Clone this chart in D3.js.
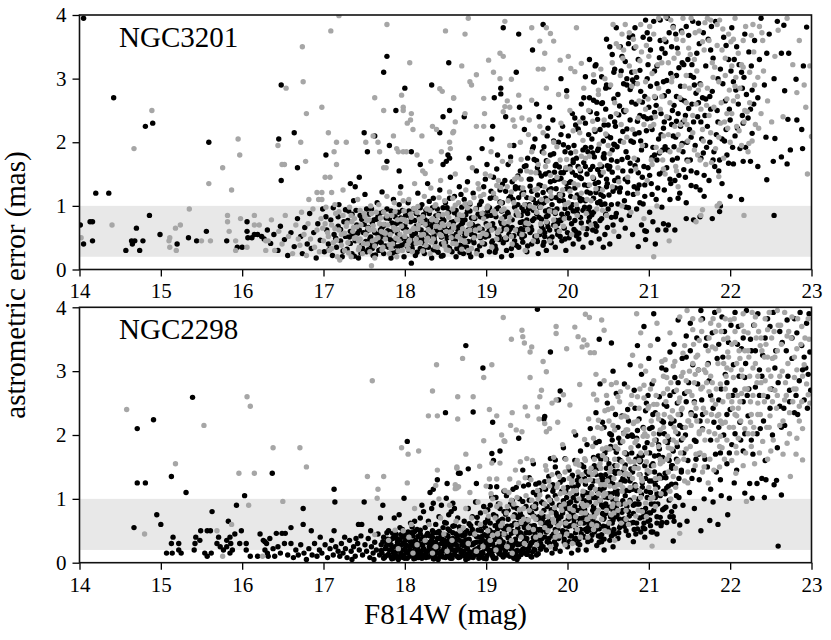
<!DOCTYPE html>
<html><head><meta charset="utf-8">
<script src="https://cdn.jsdelivr.net/npm/d3@7"></script>
<style>body{margin:0;background:#fff} text{font-family:"Liberation Serif","Times New Roman",serif}</style>
</head><body><svg id="c" width="831" height="640"></svg>
<script>
const xTicks=[14,15,16,17,18,19,20,21,22,23];
const yTicks=[0,1,2,3,4];
const xDomain=[14,23], yDomain=[0,4];
const band=[0.2,1.0];
const panelNames=["NGC3201","NGC2298"];
const axisTitleX="F814W (mag)", axisTitleY="astrometric error (mas)";

const ngc3201Black=[
[14.05,3.95],[14.42,2.70],[14.81,2.25],[14.90,2.30],[15.59,2.00],[14.20,1.20],[14.36,1.20],[14.01,0.70],[14.13,0.75],[14.16,0.75],[14.05,0.40],[14.16,0.45],[14.57,0.30],[14.74,0.30],[14.64,0.45],[14.65,0.40],[14.68,0.45],[14.70,0.65],[14.78,0.45],[14.86,0.85],[14.99,0.55],[15.20,0.40],[15.34,0.50],[15.44,0.45],[15.56,0.60],[15.81,0.45],[15.94,0.35],[16.00,0.35],[16.06,0.75],[16.06,0.60],[16.07,0.50],[16.12,0.50],[16.15,0.55],[16.19,0.55],[16.24,0.52],[16.27,0.48],
[16.48,2.90],[17.78,3.35],[17.74,3.10],[18.54,3.25],[18.00,2.85],[18.33,2.90],[17.89,2.50],[18.55,2.50],[18.47,2.40],[16.64,2.15],[16.45,2.05],[17.50,2.15],[17.63,2.10],[18.43,2.15],[17.81,1.95],[17.54,1.85],[17.03,1.80],[16.68,1.60],[16.48,1.40],[18.08,1.85],[17.78,1.70],[17.93,1.55],[18.53,1.80],[18.55,1.75],[18.47,1.65],[18.51,1.70],[17.44,1.45],[17.33,1.35],[17.39,1.30],[18.19,1.65],[18.08,0.10],
[19.21,3.80],[19.40,3.70],[19.70,3.85],[20.76,3.65],[20.65,3.50],[19.57,3.45],[20.35,3.22],[19.37,3.10],[20.22,3.03],[20.32,2.95],[19.92,3.00],[20.58,3.15],[20.73,3.00],[20.80,2.98],[20.82,2.93],[20.78,2.87],[20.48,2.90],[19.10,2.70],[19.18,2.76],[19.18,2.85],[19.62,2.60],[19.78,2.55],[19.99,2.81],[20.20,2.70],[20.32,2.66],[20.42,2.61],[18.73,2.40],[19.08,2.25],[20.09,2.38],
[16.31,0.62],[16.35,0.41],[16.39,0.55],[16.44,0.30],[16.47,0.68],[16.52,0.47],[16.56,0.22],[16.60,0.58],[16.64,0.36],[16.68,0.80],
[16.72,0.52],[16.74,0.25],[16.77,0.66],[16.80,0.40],[16.83,0.88],[16.85,0.33],[16.88,0.58],[16.91,0.18],[16.93,0.72],[16.96,0.46],[16.99,0.95],[17.01,0.28],[17.04,0.62],[17.06,0.40],[17.09,0.78],[17.11,0.22],[17.13,0.55],[17.16,0.35],[17.18,0.68],[17.19,1.02],
[17.21,0.45],[17.23,0.20],[17.25,0.75],[17.27,0.52],[17.29,0.32],[17.31,0.92],[17.33,0.60],[17.35,0.25],[17.37,1.08],[17.39,0.45],[17.41,0.70],[17.43,0.18],[17.45,0.85],[17.47,0.38],[17.49,0.58],[17.51,1.18],[17.53,0.28],[17.55,0.66],[17.57,0.48],[17.59,0.95],[17.61,0.22],[17.62,0.78],[17.64,0.40],[17.66,1.05],[17.67,0.55],[17.68,0.30],[17.69,0.88],[17.70,0.62],
[17.71,0.42],[17.72,1.22],[17.74,0.25],[17.75,0.70],[17.77,0.52],[17.78,0.95],[17.80,0.35],[17.81,0.80],[17.83,0.18],[17.84,0.60],[17.86,1.10],[17.87,0.45],[17.89,0.72],[17.90,0.28],[17.92,0.90],[17.93,0.55],[17.95,1.30],[17.96,0.38],[17.98,0.65],[17.99,0.20],[18.01,0.85],[18.02,0.48],[18.04,1.05],[18.05,0.30],[18.07,0.75],[18.08,0.58],[18.10,0.40],[18.11,0.95],[18.13,0.22],[18.14,0.68],[18.16,1.20],[18.17,0.50],[18.18,0.82],[18.19,0.33],[18.20,0.62],
[18.21,1.02],[18.22,0.42],[18.24,0.25],[18.25,0.78],[18.26,0.55],[18.28,1.35],[18.29,0.35],[18.30,0.88],[18.32,0.62],[18.33,0.18],[18.35,1.12],[18.36,0.48],[18.37,0.72],[18.39,0.30],[18.40,0.95],[18.42,0.58],[18.43,1.25],[18.45,0.40],[18.46,0.82],[18.47,0.22],[18.49,0.66],[18.50,1.05],[18.52,0.50],[18.53,0.35],[18.54,0.90],[18.56,1.45],[18.57,0.62],[18.58,0.28],[18.60,0.75],[18.61,1.15],[18.62,0.45],[18.63,0.20],[18.65,0.85],[18.66,0.55],[18.67,1.30],[18.68,0.38],[18.69,0.70],[18.70,0.98],[18.27,0.70],[18.44,0.60],
[18.71,0.48],[18.72,0.25],[18.73,1.10],[18.74,0.78],[18.76,0.35],[18.77,1.38],[18.78,0.62],[18.80,0.92],[18.81,0.20],[18.82,0.55],[18.84,1.20],[18.85,0.42],[18.86,0.80],[18.88,1.55],[18.89,0.30],[18.90,0.68],[18.92,1.02],[18.93,0.50],[18.94,0.22],[18.96,0.88],[18.97,1.30],[18.98,0.40],[19.00,0.72],[19.01,1.65],[19.02,0.58],[19.04,0.28],[19.05,1.12],[19.06,0.85],[19.08,0.45],[19.09,1.45],[19.10,0.65],[19.12,0.32],[19.13,0.95],[19.14,1.80],[19.16,0.52],[19.17,1.25],[19.18,0.75],[19.19,0.20],[19.20,1.05],[18.79,1.75],[18.95,1.90],[19.07,2.05],
[19.21,0.42],[19.22,0.65],[19.23,1.40],[19.25,0.30],[19.26,0.90],[19.27,1.65],[19.28,0.55],[19.30,1.15],[19.31,0.22],[19.32,0.78],[19.34,1.95],[19.35,0.45],[19.36,1.30],[19.38,0.62],[19.39,1.02],[19.40,0.35],[19.42,1.55],[19.43,0.85],[19.44,0.50],[19.46,1.22],[19.47,2.20],[19.48,0.70],[19.50,0.28],[19.51,1.75],[19.52,0.95],[19.54,0.58],[19.55,1.42],[19.56,0.40],[19.58,1.10],[19.59,0.80],[19.60,2.05],[19.62,0.48],[19.63,1.60],[19.64,0.25],[19.66,0.98],[19.67,1.32],[19.68,0.68],[19.69,1.85],[19.70,0.38],[19.24,2.40],[19.45,0.75],[19.57,1.90],[19.33,1.10],[19.65,2.40],[19.41,2.55],
[19.71,1.05],[19.72,0.52],[19.73,1.50],[19.74,0.30],[19.75,2.10],[19.76,0.85],[19.77,1.25],[19.78,0.62],[19.79,1.80],[19.80,0.42],[19.81,1.02],[19.82,2.35],[19.83,0.70],[19.84,1.40],[19.85,0.35],[19.86,1.65],[19.87,0.95],[19.88,0.55],[19.89,2.00],[19.90,1.18],[19.91,0.78],[19.92,1.52],[19.93,0.45],[19.94,2.25],[19.95,1.08],[19.96,0.65],[19.97,1.85],[19.98,0.30],[19.99,1.35],[20.00,0.88],[20.01,2.10],[20.02,0.50],[20.03,1.62],[20.04,1.15],[20.05,0.72],[20.06,2.45],[20.07,0.40],[20.08,1.95],[20.09,1.28],[20.10,0.60],[20.11,1.75],[20.12,0.95],[20.13,2.20],[20.14,0.48],[20.15,1.45],[20.16,0.82],[20.17,2.60],[20.18,1.10],[20.19,0.35],[20.20,1.68],
[20.21,0.98],[20.22,2.30],[20.23,0.55],[20.24,1.50],[20.25,1.85],[20.26,0.75],[20.27,2.70],[20.28,1.20],[20.29,0.42],[20.30,2.05],[20.31,1.62],[20.32,0.90],[20.33,2.95],[20.34,1.35],[20.35,0.60],[20.36,2.45],[20.37,1.05],[20.38,1.90],[20.39,0.48],[20.40,2.20],[20.41,1.48],[20.42,0.80],[20.43,2.62],[20.44,1.15],[20.45,1.75],[20.46,0.55],[20.47,2.85],[20.48,1.30],[20.49,2.10],[20.50,0.95],[20.51,1.58],[20.52,0.40],[20.53,2.40],[20.54,1.02],[20.55,1.88],[20.56,0.70],[20.57,3.10],[20.58,1.40],[20.59,2.25],[20.60,0.88],[20.61,1.70],[20.62,2.75],[20.63,0.52],[20.64,1.22],[20.65,2.02],[20.66,0.78],[20.67,3.35],[20.68,1.55],[20.69,2.50],[20.70,1.08],[20.34,3.20],[20.52,3.50],[20.44,0.35],[20.60,3.80],[20.27,3.30],
[20.71,0.65],[20.72,1.85],[20.73,2.90],[20.74,1.20],[20.75,3.55],[20.76,0.85],[20.77,2.35],[20.78,1.55],[20.79,3.10],[20.80,0.55],[20.81,2.00],[20.82,1.30],[20.83,3.80],[20.84,2.60],[20.85,0.95],[20.86,1.72],[20.87,3.30],[20.88,2.15],[20.89,1.05],[20.90,2.80],[20.91,0.70],[20.92,1.45],[20.93,3.65],[20.94,2.40],[20.95,1.15],[20.96,1.95],[20.97,0.60],[20.98,3.00],[20.99,1.60],[21.00,2.55],[21.01,0.90],[21.02,3.45],[21.03,1.35],[21.04,2.20],[21.05,0.75],[21.06,3.90],[21.07,1.80],[21.08,2.70],[21.09,1.10],[21.10,3.20],[21.11,0.62],[21.12,2.05],[21.13,1.50],[21.14,3.60],[21.15,2.45],[21.16,0.98],[21.17,1.88],[21.18,2.95],[21.19,1.25],[21.20,3.40],[20.87,0.36],[20.96,0.47],[20.95,0.61],[21.08,0.40],[21.18,0.72],
[21.22,1.60],[21.24,2.80],[21.26,1.10],[21.28,3.50],[21.30,2.10],[21.32,1.40],[21.34,3.05],[21.36,2.45],[21.38,1.20],[21.40,3.75],[21.42,1.85],[21.44,2.65],[21.46,1.05],[21.48,3.30],[21.50,2.20],[21.52,1.55],[21.54,3.90],[21.56,2.90],[21.58,1.30],[21.60,2.40],[21.62,3.55],[21.64,1.75],[21.66,2.70],[21.68,1.15],[21.70,3.20],[21.23,3.95],[21.29,2.50],[21.35,1.75],[21.41,3.25],[21.47,2.00],[21.53,2.60],[21.59,3.40],[21.65,2.05],[21.27,1.35],[21.45,1.45],[21.63,1.25],[21.39,2.25],[21.57,1.95],[21.51,3.05],[21.33,3.70],
[21.24,0.70],[21.21,0.62],[21.32,0.62],[21.46,0.80],[21.55,0.78],[21.63,0.83],
[21.72,2.25],[21.74,1.40],[21.76,3.45],[21.78,2.80],[21.80,1.85],[21.82,3.90],[21.84,2.50],[21.86,1.55],[21.88,3.15],[21.90,2.05],[21.92,3.65],[21.94,2.65],[21.96,1.80],[21.98,3.30],[22.00,2.35],[22.02,3.80],[22.04,2.95],[22.06,2.10],[22.08,3.50],[22.10,2.60],[22.12,1.90],[22.14,3.10],[22.16,2.30],[22.18,3.70],[22.20,2.75],[21.75,2.00],[21.85,3.00],[21.95,2.20],[22.05,3.30],[22.15,2.85],
[21.78,0.80],[21.87,0.91],[21.88,1.00],[22.00,1.15],[22.14,1.10],[21.98,1.67],[22.04,1.66],[21.81,1.62],[21.90,1.35],[22.16,1.70],
[22.54,0.85],[22.45,1.41],[22.34,1.62],[22.25,1.70],[22.53,1.70],[22.63,1.77],[22.70,1.66],[22.74,1.88],[22.89,1.90],[22.88,2.20],[22.82,2.35],[22.71,2.36],[22.55,2.06],[22.44,2.08],[22.67,2.81],[22.81,2.99],[22.90,3.20],[22.72,3.40],[22.63,3.40],[22.66,3.84],[22.94,3.81],[22.45,3.40],[22.54,3.00],[22.34,2.70],[22.29,2.60],[22.22,2.38],[22.27,2.14],[22.30,3.60],[22.38,3.95],[22.42,2.90],[22.26,3.20],[22.36,3.30],[22.48,3.70],[22.58,3.90],
[17.03,0.83],[17.07,0.31],[17.12,0.97],[17.15,0.49],[17.21,0.63],[17.24,0.29],[17.30,0.77],[17.33,0.41],[17.36,0.54],[17.40,0.93],[17.46,0.26],[17.50,0.71],[17.52,0.44],[17.56,0.87],[17.60,0.33],[17.63,0.58],[17.65,0.79],[17.71,0.51],[17.73,0.90],[17.76,0.37],[17.79,0.61],[17.82,0.47],[17.85,0.26],[17.88,0.83],[17.91,0.57],[17.93,1.02],[17.97,0.49],[18.00,0.69],[18.03,0.36],[18.05,0.92],[18.09,0.53],[18.12,0.77],[18.15,0.27],[18.17,0.63],[18.21,0.48],[18.23,0.86],[18.27,0.36],[18.30,1.07],[18.33,0.69],[18.36,0.53],[18.38,0.84],[18.41,0.27],[18.44,0.74],[18.47,0.97],[18.50,0.43],[18.53,0.61],[18.55,1.12],[18.58,0.52],[18.61,0.89],[18.64,0.33],[18.66,0.67],[18.69,1.18],[18.72,0.58],[18.75,0.86],[18.78,0.44],[18.80,1.03],[18.83,0.71],[18.86,0.53],[18.88,0.96],[17.18,0.83],[17.27,0.94],[17.44,0.62],[17.58,0.51],[17.69,0.44],[17.84,0.73],[17.95,0.81],[18.07,0.46],[18.19,0.97],[18.25,0.57],[18.35,0.31],[18.45,0.51],[18.57,0.74],[18.63,0.55],[18.73,0.37],[18.81,0.63],[17.55,0.31],[17.87,0.37],[18.13,0.57],[18.40,0.66],[18.70,0.78],
[18.91,0.62],[18.94,1.07],[18.96,0.41],[18.99,1.42],[19.01,0.84],[19.03,0.53],[19.06,1.23],[19.08,0.72],[19.11,0.37],[19.13,1.58],[19.15,0.97],[19.18,0.61],[19.20,1.34],[19.23,0.83],[19.25,0.47],[19.28,1.12],[19.30,1.77],[19.32,0.66],[19.35,0.98],[19.37,0.38],[19.39,1.47],[19.42,0.74],[19.44,1.19],[19.47,0.53],[19.49,1.63],[19.51,0.88],[19.54,1.31],[19.56,0.62],[19.58,1.93],[19.61,1.04],[19.63,0.44],[19.65,1.52],[19.68,0.79],[19.70,1.21],[19.72,0.58],[19.74,1.71],[19.77,0.94],[19.79,1.38],[19.81,0.51],[19.83,2.02],[19.86,1.13],[19.88,0.72],[19.90,1.61],[19.93,0.87],[19.95,1.96],[19.97,0.48],[19.99,1.27],[20.02,0.81],[20.04,1.83],[20.06,1.02],[20.08,0.63],[20.10,1.48],[20.13,2.21],[20.15,1.12],[20.17,0.73],[20.19,1.88],[20.21,1.33],[20.24,0.64],[20.26,2.12],[20.28,1.57],[20.30,0.86],[20.33,1.77],[20.35,1.21],[20.37,2.36],[20.40,0.77],[20.42,1.62],[20.44,2.02],[20.46,1.03],[20.48,1.42],[20.50,2.27],[18.93,0.83],[19.04,0.97],[19.16,0.47],[19.26,0.68],[19.36,1.27],[19.46,0.92],[19.57,0.77],[19.66,1.07],[19.76,0.67],[19.85,0.88],[19.94,1.17],[20.03,1.37],[20.12,0.88],[20.22,1.08],[20.32,1.43],[20.41,1.18],[20.49,0.66],[19.19,0.92],[19.41,0.56],[19.62,1.71],[19.84,1.53],[20.07,1.68],[20.27,0.98],[20.45,1.82],[19.53,1.02],[19.73,0.92],[19.92,1.43],[20.16,1.55],[20.36,0.68],[20.47,2.52],
[20.51,1.17],[20.53,2.07],[20.55,1.53],[20.57,2.68],[20.59,0.83],[20.61,1.93],[20.63,2.43],[20.65,1.28],[20.67,1.73],[20.69,2.92],[20.71,1.42],[20.73,2.21],[20.75,0.97],[20.77,1.67],[20.79,2.63],[20.81,1.18],[20.83,2.13],[20.85,3.02],[20.87,1.52],[20.89,2.42],[20.91,1.88],[20.93,1.03],[20.95,2.72],[20.97,2.18],[20.99,3.22],[21.01,1.48],[21.03,2.38],[21.05,1.92],[21.07,3.12],[21.09,2.58],[21.11,1.28],[21.13,3.33],[21.15,2.12],[21.17,1.53],[21.19,2.73],[21.21,3.58],[21.23,1.88],[21.25,2.38],[21.27,3.08],[21.29,1.72],[21.31,2.58],[21.33,2.08],[21.35,3.48],[21.37,1.48],[21.39,2.88],[21.41,1.98],[21.43,3.22],[21.45,2.42],[21.47,1.72],[21.49,3.68],[20.54,1.72],[20.62,1.03],[20.70,2.48],[20.78,2.02],[20.86,1.27],[20.94,1.62],[21.02,2.88],[21.10,1.72],[21.18,2.22],[21.26,1.42],[21.34,2.72],[21.42,2.32],[20.66,3.12],[20.82,3.48],[20.98,3.72],[21.14,3.92],[21.30,3.82],[20.58,2.32],[20.74,1.38],[20.90,2.02],
[21.51,1.72],[21.55,2.32],[21.59,1.52],[21.63,2.92],[21.67,3.72],[21.71,1.92],[21.75,2.72],[21.79,3.32],[21.83,2.12],[21.87,1.72],[21.91,2.92],[21.95,3.52],[21.99,2.52],[22.03,1.92],[22.07,2.82],[22.11,3.22],[22.15,2.42],[22.19,1.92],[22.23,3.42],[22.27,2.82],[21.53,3.22],[21.61,2.62],[21.69,2.42],[21.77,3.82],[21.85,2.32],[21.93,2.02],[22.01,3.12],[22.09,2.22],[22.17,3.02],[22.25,2.52],
[17.32,0.51],[17.35,0.87],[17.38,0.21],[17.42,0.57],[17.47,0.79],[17.48,0.33],[17.53,0.95],[17.54,0.61],[17.58,0.39],[17.60,0.74],[17.64,0.23],[17.67,0.83],[17.70,0.31],[17.72,0.66],[17.77,0.81],[17.80,0.53],[17.83,0.92],[17.86,0.43],[17.89,0.63],[17.92,0.36],[17.94,0.73],[17.97,0.93],[18.00,0.41],[18.02,0.63],[18.06,0.84],[18.09,0.33],[18.11,0.56],[18.14,0.88],[18.18,0.43],[18.20,0.74],[18.23,0.31],[18.26,0.93],[18.29,0.51],[18.31,0.76],[18.34,0.97],[18.37,0.43],[18.39,0.62],[18.42,0.87],[18.45,0.21],[18.48,0.77],[18.50,0.56],[18.52,0.97],[18.55,0.33],[18.58,0.66],[18.60,0.44],[18.63,0.93],[18.65,0.63],[18.68,0.27],[18.71,0.73],[18.74,0.53],[18.77,0.92],[18.79,0.26],[18.82,0.81],[18.84,0.46],[18.87,0.67],[18.90,0.87],[18.92,0.37],[18.95,0.63],[18.98,0.83],[18.99,0.51],
[19.02,0.92],[19.04,0.64],[19.07,0.43],[19.09,1.14],[19.12,0.83],[19.14,0.56],[19.17,1.06],[19.19,0.72],[19.22,0.48],[19.24,1.23],[19.27,0.88],[19.29,0.63],[19.32,1.38],[19.34,0.53],[19.37,0.86],[19.40,1.13],[19.43,0.64],[19.45,0.43],[19.48,1.02],[19.50,0.78],[19.53,1.42],[19.55,0.67],[19.58,0.93],[19.60,0.52],[19.63,1.17],[19.65,0.82],[19.68,1.47],[19.70,0.63],[19.73,1.12],[19.75,0.73],[19.78,0.48],[19.80,1.27],[19.82,0.92],[19.85,1.63],[19.87,0.62],[19.90,1.08],[19.92,0.77],[19.95,1.52],[19.97,0.96],[20.00,0.58],[20.02,1.27],[20.04,0.97],[20.07,1.72],[20.09,0.77],[20.12,1.17],[20.14,0.57],[20.17,1.43],[20.19,0.93],[20.22,1.62],[20.24,1.22],[20.27,0.82],[20.29,1.92],[20.32,1.12],[20.34,0.72],[20.37,1.57],[20.39,1.27],[20.42,1.02],[20.44,1.77],[20.47,0.87],[20.49,1.35],[20.52,1.62],[20.54,0.82],[20.57,1.97],[20.59,1.28],[19.11,0.27],[19.31,0.33],[19.51,0.37],[19.71,0.43],[19.91,0.52],[20.11,0.53],
[20.31,1.83],[20.36,2.63],[20.38,1.37],[20.42,3.03],[20.45,2.27],[20.49,1.63],[20.51,2.87],[20.55,3.38],[20.58,1.96],[20.62,1.44],[20.64,2.57],[20.68,2.17],[20.71,3.27],[20.74,1.76],[20.77,2.83],[20.80,3.67],[20.83,1.63],[20.86,2.33],[20.89,3.13],[20.92,2.63],[20.95,1.33],[20.98,2.37],[21.01,3.62],[21.04,1.76],[21.07,2.47],[21.10,2.92],[21.13,1.83],[21.16,3.47],[21.19,2.32],[21.22,2.97],[21.25,3.72],[21.28,2.28],[21.31,1.93],[21.34,2.33],[21.37,3.17],[21.40,2.67],[21.43,1.57],[21.46,3.82],[21.49,2.53],[21.52,2.08],[21.55,3.02],[21.58,2.77],[21.61,3.87],[21.64,2.32],[21.67,1.83],[21.70,2.68],[21.73,3.62],[21.76,2.52],[21.79,1.72],[20.40,1.07],[20.56,1.23],[20.72,0.98],[20.88,1.33],[21.04,1.18],[21.20,1.93],[21.36,1.12],[21.52,1.32],[21.68,1.48],[20.48,3.62],[20.96,3.92],
[19.41,1.28],[19.44,0.97],[19.47,1.62],[19.50,1.13],[19.53,0.67],[19.56,1.23],[19.59,1.73],[19.62,0.88],[19.65,1.33],[19.68,1.03],[19.71,1.93],[19.74,0.83],[19.77,1.52],[19.80,1.12],[19.83,1.82],[19.86,0.77],[19.89,1.42],[19.92,2.12],[19.95,0.82],[19.98,1.57],[20.01,1.92],[20.04,1.38],[20.07,0.92],[20.10,2.27],[20.13,1.62],[20.16,1.08],[20.19,2.38],[20.22,1.92],[20.25,1.32],[20.28,2.48],[20.31,0.62],[20.34,2.17],[20.37,1.87],[20.40,1.52],[19.46,0.62],[19.66,0.55],[19.86,1.27],[20.06,1.53],[20.26,0.92],[19.76,2.22]
];

const ngc3201Gray=[
[14.89,2.50],[14.67,1.90],[15.97,1.80],[15.95,2.05],[15.76,1.60],[15.59,1.35],[15.87,1.25],[15.35,0.95],[14.40,0.70],[14.02,0.50],[15.24,0.70],[15.18,0.65],[15.11,0.50],[15.10,0.45],[15.11,0.35],[15.19,0.30],[15.50,0.45],[15.61,0.45],[15.82,0.85],[15.82,0.75],[15.84,0.60],[15.98,0.80],[15.92,0.45],[15.92,0.30],[16.15,0.85],[16.15,0.70],[16.21,0.70],[16.29,0.45],[16.29,0.30],[16.06,0.35],
[17.19,3.99],[17.09,3.75],[17.78,3.85],[18.50,3.75],[16.74,3.50],[16.75,2.95],[18.06,3.25],[18.43,2.84],[18.46,2.80],[18.60,2.70],[17.63,2.70],[16.98,2.55],[16.79,2.45],[17.74,2.50],[17.96,2.74],[17.98,2.55],[17.98,2.50],[18.08,2.45],[18.07,2.35],[18.03,2.30],[18.10,2.20],[16.54,2.85],[16.44,1.95],[16.49,1.65],[16.52,1.65],[16.72,2.00],[16.78,1.70],[17.06,2.15],[17.16,2.00],[17.28,2.00],[17.13,1.85],[17.16,1.65],[17.02,1.45],[17.08,1.45],[16.92,1.21],[16.98,1.21],[16.82,1.10],[16.94,1.10],[16.98,1.10],[17.10,1.21],[17.24,1.25],[17.52,2.00],[17.67,2.00],[17.61,2.10],[17.69,1.85],[17.74,1.60],[17.77,1.60],[17.86,2.10],[17.90,1.90],[17.92,1.85],[17.98,1.85],[18.02,1.85],[18.21,2.10],[18.15,1.80],[18.34,2.25],[18.39,2.20],[18.59,2.15],[18.55,2.00],[18.56,1.90],[18.45,1.85],[18.32,1.70],[18.22,1.55],[18.25,1.51],[17.59,0.06],[17.20,0.15],
[18.78,3.95],[19.23,3.90],[19.56,3.80],[19.74,3.80],[19.79,3.71],[20.11,3.80],[20.56,3.85],[20.71,3.85],[20.67,3.70],[20.60,3.55],[20.63,3.50],[20.69,3.45],[18.74,3.70],[19.66,3.59],[19.83,3.59],[19.72,3.40],[19.03,3.29],[19.17,3.40],[19.21,3.35],[19.91,3.29],[20.01,3.35],[20.17,3.24],[18.70,3.20],[19.64,3.15],[19.70,3.15],[19.09,3.10],[20.04,3.16],[20.09,3.11],[20.32,3.06],[18.88,3.06],[18.80,2.95],[18.82,2.90],[19.17,3.00],[19.31,2.99],[20.83,3.11],[20.46,3.00],[20.38,2.82],[18.60,2.69],[18.97,2.69],[19.26,2.65],[19.23,2.56],[19.29,2.55],[19.40,2.74],[19.56,2.66],[19.74,2.85],[19.89,2.75],[19.99,2.72],[20.20,2.85],[18.74,2.45],[18.98,2.45],[19.21,2.48],[19.33,2.35],[19.44,2.38],[19.66,2.25],[18.88,2.25],[18.97,2.25],[20.15,2.32],[18.62,2.32],[18.60,2.17],
[16.32,0.45],[16.36,0.78],[16.40,0.30],[16.45,0.60],[16.49,0.40],[16.53,0.85],[16.57,0.52],[16.62,0.25],[16.66,0.70],[16.69,0.48],
[16.71,0.38],[16.73,0.90],[16.76,0.55],[16.79,0.22],[16.81,0.72],[16.84,0.48],[16.87,0.95],[16.89,0.35],[16.92,0.62],[16.95,0.28],[16.97,0.80],[17.00,0.45],[17.03,0.98],[17.05,0.58],[17.07,0.30],[17.10,0.70],[17.12,0.42],[17.15,0.88],[17.17,0.20],[17.19,0.62],[17.14,1.02],[16.99,0.65],
[17.22,0.55],[17.24,0.85],[17.26,0.30],[17.28,0.68],[17.30,0.42],[17.32,0.98],[17.34,0.20],[17.36,0.60],[17.38,0.80],[17.40,0.50],[17.42,1.10],[17.44,0.35],[17.46,0.70],[17.48,0.25],[17.50,0.88],[17.52,0.55],[17.54,0.40],[17.56,0.78],[17.58,1.00],[17.60,0.45],[17.62,0.62],[17.63,0.18],[17.65,0.90],[17.67,0.50],[17.69,0.72],[17.45,0.48],[17.35,0.75],[17.55,0.65],
[17.71,0.60],[17.73,0.35],[17.74,0.90],[17.76,0.48],[17.78,1.15],[17.79,0.70],[17.81,0.25],[17.82,0.55],[17.84,0.85],[17.85,0.40],[17.87,1.05],[17.88,0.62],[17.90,0.20],[17.91,0.78],[17.93,0.45],[17.94,1.20],[17.96,0.68],[17.97,0.30],[17.99,0.92],[18.00,0.52],[18.02,0.75],[18.03,0.38],[18.05,1.10],[18.06,0.60],[18.08,0.82],[18.09,0.28],[18.11,0.65],[18.12,1.35],[18.14,0.48],[18.15,0.90],[18.17,0.70],[18.19,0.42],
[18.21,0.75],[18.23,0.55],[18.24,1.15],[18.26,0.38],[18.27,0.95],[18.29,0.62],[18.31,0.25],[18.32,1.28],[18.34,0.80],[18.35,0.48],[18.37,1.00],[18.38,0.68],[18.40,0.35],[18.41,0.85],[18.43,0.55],[18.44,1.40],[18.46,0.72],[18.48,0.42],[18.49,1.08],[18.51,0.60],[18.52,0.88],[18.54,0.30],[18.55,1.22],[18.57,0.50],[18.59,0.95],[18.60,0.65],[18.62,1.50],[18.63,0.40],[18.65,0.78],[18.66,1.05],[18.68,0.58],[18.70,0.32],
[18.71,0.85],[18.73,0.45],[18.75,1.25],[18.76,0.60],[18.78,0.30],[18.80,1.05],[18.81,0.72],[18.83,1.60],[18.85,0.50],[18.87,0.95],[18.88,0.25],[18.90,1.35],[18.92,0.65],[18.93,1.15],[18.95,0.42],[18.97,0.80],[18.99,1.50],[19.00,0.55],[19.02,1.00],[19.04,0.70],[19.06,1.85],[19.07,0.35],[19.09,1.20],[19.11,0.88],[19.13,0.48],[19.15,1.40],[19.16,0.62],[19.18,1.05],[19.19,0.80],[19.20,1.70],
[19.22,0.95],[19.24,0.50],[19.26,1.30],[19.28,0.75],[19.30,1.70],[19.32,0.40],[19.34,1.05],[19.36,0.62],[19.38,1.45],[19.40,0.85],[19.42,2.00],[19.44,0.55],[19.46,1.18],[19.48,0.30],[19.50,1.55],[19.52,0.72],[19.54,1.00],[19.56,1.85],[19.58,0.45],[19.60,1.25],[19.62,0.90],[19.64,1.65],[19.66,0.60],[19.68,1.10],[19.70,2.15],[19.35,2.25],[19.53,2.35],[19.29,1.95],
[19.72,1.30],[19.74,0.75],[19.76,1.70],[19.78,0.45],[19.80,1.15],[19.83,2.00],[19.85,0.90],[19.87,1.45],[19.90,0.60],[19.92,2.30],[19.94,1.25],[19.96,0.80],[19.98,1.60],[20.01,1.05],[20.03,2.50],[20.05,0.55],[20.08,1.35],[20.10,1.85],[20.12,0.85],[20.15,2.15],[20.17,1.20],[20.19,0.65],
[20.22,1.75],[20.24,1.10],[20.26,2.50],[20.29,0.70],[20.31,1.45],[20.33,2.20],[20.36,0.95],[20.38,2.75],[20.40,1.65],[20.43,1.25],[20.45,2.35],[20.48,0.85],[20.50,1.95],[20.53,2.90],[20.55,1.30],[20.57,0.60],[20.60,2.45],[20.62,1.60],[20.65,3.05],[20.67,1.00],[20.69,2.00],[20.41,3.15],
[20.72,2.50],[20.74,1.45],[20.76,3.20],[20.78,0.90],[20.80,2.20],[20.82,1.75],[20.84,3.50],[20.86,1.20],[20.88,2.65],[20.90,3.85],[20.92,1.95],[20.94,0.80],[20.96,2.95],[20.98,1.40],[21.00,3.35],[21.02,2.25],[21.04,1.65],[21.06,3.70],[21.08,2.40],[21.10,1.00],[21.12,2.85],[21.14,1.85],[21.16,3.25],[21.18,2.10],[21.20,1.50],[21.06,0.20],
[21.22,2.40],[21.24,3.25],[21.26,1.85],[21.28,2.95],[21.30,3.80],[21.32,2.25],[21.34,1.55],[21.36,3.40],[21.38,2.70],[21.40,1.95],[21.42,3.60],[21.44,2.35],[21.46,3.05],[21.48,1.70],[21.50,2.85],[21.52,3.95],[21.54,2.15],[21.56,3.30],[21.58,2.60],[21.60,1.80],[21.62,3.75],[21.64,2.90],[21.66,2.20],[21.68,3.45],[21.70,1.65],[21.25,0.45],[21.58,0.75],[21.64,0.85],[21.66,0.94],[21.36,1.30],
[21.72,2.85],[21.74,3.60],[21.76,2.15],[21.78,3.25],[21.80,2.55],[21.82,1.90],[21.84,3.85],[21.86,2.95],[21.88,2.30],[21.90,3.45],[21.92,1.75],[21.94,3.05],[21.96,2.45],[21.98,3.70],[22.00,2.00],[22.02,3.20],[22.04,2.65],[22.06,3.95],[22.08,2.25],[22.10,3.40],[22.12,2.85],[22.14,1.95],[22.16,3.60],[22.18,2.50],[21.84,1.00],[21.87,1.04],[22.17,0.85],[21.86,1.46],
[22.95,1.50],[22.93,2.55],[22.91,2.90],[22.77,3.22],[22.55,3.35],[22.59,3.76],[23.00,2.09],[22.65,2.40],[22.51,2.32],[22.35,2.22],[22.22,1.85],[22.82,2.78],[22.24,3.10],[22.30,2.90],[22.40,3.60],[22.28,3.85],[22.46,2.65],[22.38,2.45],[22.70,3.95],[22.85,3.60],[22.98,3.20],
[17.02,0.72],[17.06,0.52],[17.10,0.33],[17.14,0.64],[17.19,0.91],[17.22,0.38],[17.26,0.57],[17.31,0.26],[17.34,0.85],[17.38,0.49],[17.41,0.67],[17.45,0.93],[17.49,0.41],[17.53,0.77],[17.57,0.28],[17.61,0.69],[17.64,0.47],[17.68,1.02],[17.72,0.31],[17.75,0.58],[17.78,0.84],[17.81,0.39],[17.86,0.66],[17.89,0.49],[17.92,0.29],[17.96,0.79],[17.98,1.08],[18.01,0.59],[18.04,0.32],[18.07,0.87],[18.10,0.63],[18.14,0.41],[18.16,0.99],[18.20,0.54],[18.22,0.29],[18.25,0.71],[18.28,0.49],[18.31,0.93],[18.34,0.59],[18.37,0.36],[18.39,0.77],[18.42,1.13],[18.45,0.53],[18.48,0.69],[18.51,0.31],[18.54,0.82],[18.56,0.59],[18.59,0.41],[18.62,1.01],[18.65,0.52],[18.67,0.86],[18.71,0.64],[18.74,0.43],[18.77,0.97],[18.79,0.71],[18.82,0.33],[18.85,1.13],[18.87,0.62],[17.16,0.46],[17.29,0.73],[17.43,0.31],[17.59,0.88],[17.74,0.71],[17.91,0.63],[18.06,0.46],[18.18,0.79],[18.33,0.43],[18.47,0.86],[18.60,0.69],[18.76,0.56],
[18.92,0.52],[18.97,1.18],[19.01,0.68],[19.05,1.47],[19.09,0.92],[19.14,0.58],[19.18,1.29],[19.22,0.73],[19.27,1.08],[19.31,0.52],[19.35,1.42],[19.39,0.88],[19.43,1.73],[19.47,1.02],[19.51,0.63],[19.55,1.53],[19.59,0.97],[19.63,1.27],[19.67,0.72],[19.71,1.83],[19.75,1.08],[19.79,1.48],[19.83,0.78],[19.87,1.93],[19.91,1.17],[19.95,0.68],[19.99,1.73],[20.03,1.23],[20.07,2.18],[20.11,1.02],[20.15,1.58],[20.19,2.03],[20.23,0.88],[20.27,1.78],[20.31,2.33],[20.35,1.27],[20.39,1.97],[20.43,0.93],[20.47,2.13],[18.95,0.88],[19.12,1.12],[19.29,0.82],[19.45,1.28],[19.62,0.53],[19.78,0.92],[19.96,1.37],[20.13,1.33],[20.29,1.08],[20.44,1.53],[19.52,2.12],
[20.52,1.82],[20.58,2.62],[20.63,1.38],[20.68,3.32],[20.73,2.08],[20.79,2.88],[20.84,1.58],[20.89,3.28],[20.94,2.28],[20.99,2.68],[21.04,3.08],[21.09,1.92],[21.14,2.52],[21.19,3.62],[21.24,2.12],[21.29,3.02],[21.34,3.62],[21.39,2.28],[21.44,2.88],[21.49,3.48],[21.54,2.42],[21.59,3.12],[21.64,2.52],[21.69,3.88],[21.74,2.42],[21.79,3.02],[21.84,3.52],[21.89,2.62],[21.94,3.32],[21.99,2.82],[22.04,3.62],[22.09,2.72],[22.14,3.22],[22.19,3.82],[22.24,2.62],[22.29,3.42],[22.34,3.02],[22.39,3.72],[20.55,3.25],[20.66,2.28],[20.76,3.72],[20.87,2.38],[20.97,3.52],[21.07,2.72],[21.17,1.72],[21.27,3.92],[21.37,1.88],[21.47,2.28],[21.57,3.72],[21.67,2.02],[21.77,1.68],[21.87,3.92],[21.97,2.22],[22.07,3.02],[22.17,2.32],[22.27,2.02],[21.12,3.95],[21.42,3.95],[21.72,3.95],[22.02,2.45],
[17.37,0.66],[17.43,0.45],[17.51,0.83],[17.57,0.62],[17.63,0.37],[17.70,0.81],[17.76,0.57],[17.83,0.33],[17.88,0.91],[17.94,0.55],[18.00,0.78],[18.05,0.44],[18.11,0.96],[18.16,0.64],[18.22,0.83],[18.27,0.45],[18.33,0.78],[18.38,1.02],[18.43,0.66],[18.49,0.37],[18.54,0.71],[18.59,1.12],[18.64,0.79],[18.69,0.47],[18.74,1.03],[18.80,0.62],[18.85,0.82],[18.91,1.27],[18.96,0.57],[19.01,0.97],[19.07,0.62],[19.13,1.32],[19.19,0.93],[19.25,0.63],[19.31,1.22],[19.37,0.92],[19.43,1.42],[19.49,0.73],[19.55,1.12],[19.61,1.52],[19.67,0.98],[19.73,1.62],[19.79,1.22],[19.85,0.68],[19.91,1.72],[19.97,1.02],[20.03,1.58],[20.09,1.13],[20.17,1.78],[20.27,1.33],
[20.81,3.62],[20.86,2.92],[20.91,3.42],[20.96,2.52],[21.01,3.82],[21.06,2.28],[21.11,3.22],[21.16,2.72],[21.21,3.97],[21.26,2.62],[21.31,3.32],[21.36,2.12],[21.41,3.72],[21.46,2.62],[21.51,3.38],[21.56,1.88],[21.61,2.82],[21.66,3.58],[21.71,2.58],[21.76,3.92],[21.81,3.18],[21.86,2.08],[21.91,3.78],[21.96,2.68],[22.01,3.58],[22.06,2.88],[22.11,2.18],[22.16,3.18],[22.21,2.48],[22.26,3.68],[22.31,2.28],[22.36,3.82],[22.41,3.12],[21.03,1.72],[21.33,1.62],[21.63,1.72],[21.93,2.32],[22.23,1.98],[21.18,1.58],[21.48,2.02]
];

const ngc2298Black=[
[15.39,2.59],[14.91,2.24],[14.71,2.10],[14.71,1.25],[14.81,1.25],[15.13,1.35],[15.31,1.10],[14.67,0.55],[14.95,0.75],[15.00,0.60],[15.63,0.80],[15.93,0.90],[16.03,1.05],[15.83,0.65],[15.15,0.40],[15.13,0.30],[15.22,0.30],[15.22,0.20],[15.07,0.15],[15.14,0.15],[15.25,0.15],[15.42,0.30],[15.43,0.40],[15.41,0.20],[15.48,0.35],[15.49,0.50],[15.57,0.50],[15.61,0.50],[15.54,0.15],[15.57,0.10],[15.62,0.15],[15.69,0.30],[15.71,0.40],[15.73,0.25],[15.77,0.20],[15.81,0.25],[15.81,0.35],[15.85,0.40],[15.86,0.30],[15.88,0.20],[15.85,0.15],[15.91,0.45],[15.99,0.50],[15.97,0.30],[16.05,0.30],[16.05,0.20],[16.10,0.10],[16.19,0.10],[16.22,0.45],[16.26,0.35],[16.28,0.20],[16.30,0.30],[16.32,0.10],
[16.28,0.33],[16.34,0.38],[16.42,0.46],[16.49,0.46],[16.53,0.46],[16.38,0.22],[16.44,0.25],[16.47,0.15],[16.56,0.12],[16.60,0.30],[16.63,0.08],[16.66,0.20],[16.69,0.12],[16.60,0.55],[16.37,1.40],[16.31,0.15],[16.52,0.30],[16.40,0.10],
[16.75,0.85],[16.75,0.60],[16.85,0.50],[16.72,0.28],[16.76,0.15],[16.79,0.05],[16.82,0.22],[16.86,0.12],[16.89,0.30],[16.92,0.10],[16.95,0.20],[16.98,0.15],[17.02,0.28],[17.05,0.08],[17.08,0.22],[17.10,0.35],[17.12,0.12],[17.15,0.25],[17.18,0.18],[17.13,1.15],[17.14,0.95],[17.13,0.50],[16.96,0.40],[17.20,0.10],
[17.22,0.30],[17.24,0.15],[17.27,0.22],[17.29,0.08],[17.32,0.35],[17.34,0.18],[17.37,0.25],[17.39,0.10],[17.42,0.30],[17.44,0.20],[17.46,0.42],[17.48,0.12],[17.51,0.28],[17.53,0.18],[17.55,0.38],[17.57,0.08],[17.59,0.25],[17.61,0.15],[17.63,0.32],[17.65,0.20],[17.67,0.45],[17.69,0.12],[17.43,0.60],[17.47,0.60],[17.50,0.95],[17.35,0.05],[17.58,0.50],[17.26,0.40],[17.40,0.38],[17.62,0.05],
[17.73,0.90],[17.70,0.70],[17.87,0.70],[17.99,1.01],[18.03,1.90],[17.71,0.28],[17.72,0.15],[17.74,0.40],[17.75,0.08],[17.76,0.22],[17.78,0.33],[17.79,0.12],[17.80,0.50],[17.81,0.20],[17.83,0.28],[17.84,0.06],[17.85,0.38],[17.86,0.15],[17.88,0.25],[17.89,0.45],[17.90,0.10],[17.91,0.32],[17.92,0.20],[17.94,0.55],[17.95,0.14],[17.96,0.28],[17.97,0.40],[17.98,0.08],[18.00,0.22],[18.01,0.35],[18.02,0.16],[18.04,0.48],[18.05,0.26],[18.06,0.10],[18.07,0.62],[18.08,0.30],[18.09,0.18],[18.10,0.42],[18.11,0.06],[18.12,0.25],[18.13,0.35],[18.14,0.14],[18.15,0.52],[18.16,0.22],[18.17,0.30],[18.18,0.10],[18.19,0.45],[18.20,0.18],[17.93,0.75],[18.12,0.65],
[18.21,0.90],[18.23,0.80],[18.19,0.70],[18.33,0.85],[18.35,0.93],[18.45,0.90],[18.51,1.01],[18.59,0.93],[18.61,0.85],[18.54,0.75],[18.40,1.30],[18.31,1.10],[18.35,1.15],[18.52,1.24],[18.66,1.40],[18.50,2.35],
[18.21,0.28],[18.22,0.12],[18.23,0.40],[18.24,0.20],[18.25,0.55],[18.26,0.08],[18.27,0.32],[18.28,0.18],[18.29,0.65],[18.30,0.25],[18.31,0.42],[18.32,0.12],[18.33,0.35],[18.34,0.50],[18.35,0.20],[18.36,0.06],[18.37,0.28],[18.38,0.60],[18.39,0.15],[18.40,0.38],[18.41,0.24],[18.42,0.72],[18.43,0.10],[18.44,0.45],[18.45,0.30],[18.46,0.18],[18.47,0.55],[18.48,0.22],[18.49,0.35],[18.50,0.08],[18.51,0.62],[18.52,0.28],[18.53,0.42],[18.54,0.15],[18.55,0.50],[18.56,0.25],[18.57,0.80],[18.58,0.12],[18.59,0.38],[18.60,0.20],[18.61,0.58],[18.62,0.30],[18.63,0.45],[18.64,0.10],[18.65,0.70],[18.66,0.22],[18.67,0.35],[18.68,0.52],[18.69,0.16],[18.70,0.28],
[18.68,1.40],[18.78,1.47],[18.88,1.24],[19.05,1.19],[19.13,1.19],[19.07,1.71],[19.17,1.75],[19.09,1.60],[18.84,2.36],[19.08,2.20],[18.75,3.40],[18.96,3.05],
[18.71,0.42],[18.72,0.18],[18.73,0.65],[18.74,0.30],[18.75,0.10],[18.76,0.50],[18.77,0.22],[18.78,0.85],[18.79,0.35],[18.80,0.14],[18.81,0.58],[18.82,0.28],[18.83,0.72],[18.84,0.08],[18.85,0.45],[18.86,0.20],[18.87,0.95],[18.88,0.32],[18.89,0.62],[18.90,0.12],[18.91,0.40],[18.92,0.25],[18.93,0.78],[18.94,0.50],[18.95,0.16],[18.96,0.35],[18.97,0.88],[18.98,0.22],[18.99,0.55],[19.00,0.06],[19.01,0.42],[19.02,0.68],[19.03,0.28],[19.04,0.15],[19.05,0.90],[19.06,0.48],[19.07,0.32],[19.08,0.10],[19.09,0.75],[19.10,0.22],[19.11,0.58],[19.12,1.02],[19.13,0.38],[19.14,0.18],[19.15,0.65],[19.16,0.28],[19.17,0.85],[19.18,0.45],[19.19,0.12],[19.20,0.55],
[19.40,1.95],[19.53,1.33],[19.38,0.05],[19.63,3.97],[19.72,2.29],[19.71,2.25],
[19.21,0.32],[19.22,0.80],[19.23,0.15],[19.24,0.52],[19.25,1.05],[19.26,0.25],[19.27,0.68],[19.28,0.40],[19.29,0.10],[19.30,0.92],[19.31,0.58],[19.32,0.20],[19.33,1.15],[19.34,0.35],[19.35,0.75],[19.36,0.48],[19.37,0.12],[19.38,0.85],[19.39,0.28],[19.40,0.62],[19.41,1.00],[19.42,0.18],[19.43,0.45],[19.44,0.72],[19.45,0.30],[19.46,1.20],[19.47,0.55],[19.48,0.15],[19.49,0.88],[19.50,0.38],[19.51,0.65],[19.52,0.22],[19.53,0.98],[19.54,0.48],[19.55,0.10],[19.56,0.78],[19.57,0.32],[19.58,1.10],[19.59,0.58],[19.60,0.20],[19.61,0.85],[19.62,0.42],[19.63,0.68],[19.64,0.14],[19.65,1.25],[19.66,0.52],[19.67,0.30],[19.68,0.95],[19.69,0.62],[19.70,0.25],[19.45,1.45],[19.58,1.55],
[19.79,3.30],[19.91,2.69],[19.89,2.55],[19.79,1.63],[19.85,1.61],[19.97,1.63],[19.85,1.50],[20.13,0.20],
[19.71,0.72],[19.72,0.40],[19.73,1.15],[19.74,0.20],[19.75,0.88],[19.76,0.55],[19.77,1.35],[19.78,0.30],[19.79,0.98],[19.80,0.65],[19.81,0.15],[19.82,1.22],[19.83,0.45],[19.84,0.80],[19.85,1.05],[19.86,0.28],[19.87,0.62],[19.88,1.40],[19.89,0.38],[19.90,0.90],[19.91,0.18],[19.92,0.72],[19.93,1.12],[19.94,0.50],[19.95,1.30],[19.96,0.32],[19.97,0.85],[19.98,0.58],[19.99,1.02],[20.00,0.25],[20.01,0.68],[20.02,1.45],[20.03,0.42],[20.04,0.95],[20.05,0.15],[20.06,1.20],[20.07,0.75],[20.08,0.35],[20.09,1.60],[20.10,0.55],[20.11,1.08],[20.12,0.82],[20.13,0.30],[20.14,1.35],[20.15,0.62],[20.16,1.75],[20.17,0.45],[20.18,1.00],[20.19,0.70],[20.20,1.50],[20.10,2.00],[19.95,1.80],
[20.23,0.20],[20.36,0.27],[20.45,0.20],[20.56,0.25],[20.39,3.50],[20.54,3.44],
[20.21,0.40],[20.22,1.10],[20.23,0.75],[20.24,1.85],[20.25,0.55],[20.26,1.38],[20.27,0.95],[20.28,2.10],[20.29,0.35],[20.30,1.20],[20.31,0.68],[20.32,1.65],[20.33,0.48],[20.34,1.02],[20.35,2.35],[20.36,0.82],[20.37,1.48],[20.38,0.60],[20.39,1.90],[20.40,1.15],[20.41,0.40],[20.42,0.90],[20.43,2.20],[20.44,1.30],[20.45,0.70],[20.46,1.72],[20.47,0.50],[20.48,1.05],[20.49,2.50],[20.50,0.85],[20.51,1.55],[20.52,0.35],[20.53,1.25],[20.54,2.00],[20.55,0.62],[20.56,0.98],[20.57,1.80],[20.58,0.45],[20.59,1.40],[20.60,2.65],[20.61,0.75],[20.62,1.12],[20.63,1.95],[20.64,0.55],[20.65,1.60],[20.66,0.92],[20.67,2.30],[20.68,1.32],[20.69,0.68],[20.70,2.80],[20.40,2.80],[20.56,3.00],
[20.81,0.33],[21.30,0.34],
[20.71,1.05],[20.72,0.50],[20.73,1.70],[20.74,2.40],[20.75,0.80],[20.76,1.35],[20.77,3.10],[20.78,0.62],[20.79,2.00],[20.80,1.15],[20.81,0.90],[20.82,2.70],[20.83,1.50],[20.84,0.45],[20.85,1.95],[20.86,3.40],[20.87,1.00],[20.88,2.25],[20.89,0.70],[20.90,1.60],[20.91,2.95],[20.92,1.25],[20.93,0.55],[20.94,3.70],[20.95,1.80],[20.96,0.85],[20.97,2.50],[20.98,1.40],[20.99,0.65],[21.00,3.20],[21.01,2.10],[21.02,1.10],[21.03,0.48],[21.04,2.80],[21.05,1.55],[21.06,3.90],[21.07,0.92],[21.08,2.35],[21.09,1.30],[21.10,0.72],[21.11,3.50],[21.12,1.85],[21.13,2.60],[21.14,1.05],[21.15,0.58],[21.16,3.05],[21.17,1.65],[21.18,2.20],[21.19,0.85],[21.20,1.40],[20.95,0.40],[21.10,0.45],
[21.38,0.59],[21.47,0.65],[21.64,0.50],
[21.22,2.45],[21.24,1.20],[21.26,3.30],[21.28,0.80],[21.30,1.75],[21.32,2.90],[21.34,1.05],[21.36,3.80],[21.38,2.15],[21.40,1.45],[21.42,0.90],[21.44,2.65],[21.46,3.55],[21.48,1.60],[21.50,1.10],[21.52,2.35],[21.54,3.10],[21.56,0.85],[21.58,1.90],[21.60,2.80],[21.62,1.30],[21.64,3.95],[21.66,2.10],[21.68,1.00],[21.70,3.40],[21.25,1.60],[21.35,2.50],[21.45,2.00],[21.55,1.45],[21.65,2.55],[21.31,0.65],[21.41,3.20],[21.51,3.75],[21.61,1.70],[21.57,2.30],
[21.99,1.01],[21.97,0.75],[21.85,0.60],[21.75,0.66],[22.18,1.09],
[21.72,1.50],[21.74,2.85],[21.76,1.15],[21.78,3.60],[21.80,2.20],[21.82,1.70],[21.84,3.20],[21.86,2.55],[21.88,1.30],[21.90,3.85],[21.92,2.00],[21.94,2.95],[21.96,1.55],[21.98,3.45],[22.00,2.40],[22.02,1.85],[22.04,3.10],[22.06,2.70],[22.08,1.45],[22.10,3.70],[22.12,2.20],[22.14,3.35],[22.16,1.75],[22.18,2.90],[22.20,3.95],[21.79,0.95],[21.89,1.05],[22.05,1.25],
[22.59,0.26],[22.63,1.06],[22.42,1.02],[22.27,1.01],[22.24,1.24],[22.33,1.24],[22.39,1.32],[22.44,1.30],[22.57,1.29],[22.54,1.22],
[22.22,2.30],[22.25,3.50],[22.28,1.70],[22.31,2.75],[22.34,3.90],[22.37,2.10],[22.40,3.25],[22.43,1.60],[22.46,2.60],[22.49,3.70],[22.52,2.00],[22.55,3.05],[22.58,1.80],[22.61,2.45],[22.64,3.45],[22.67,2.15],[22.70,3.80],[22.73,2.70],[22.76,3.20],[22.79,2.35],[22.82,3.60],[22.85,2.85],[22.88,3.40],[22.91,2.55],[22.94,3.75],[22.96,2.95],[22.98,3.30],[22.99,2.70],[22.93,3.05],[22.97,3.90],
[17.71,0.19],[17.73,0.33],[17.74,0.07],[17.77,0.26],[17.78,0.47],[17.80,0.13],[17.82,0.35],[17.84,0.21],[17.86,0.07],[17.87,0.42],[17.89,0.17],[17.91,0.28],[17.92,0.05],[17.94,0.36],[17.96,0.19],[17.97,0.52],[17.99,0.12],[18.01,0.28],[18.03,0.07],[18.04,0.39],[18.06,0.21],[18.08,0.47],[18.09,0.13],[18.11,0.33],[18.13,0.07],[18.14,0.24],[18.16,0.41],[18.18,0.16],[18.19,0.29],[18.21,0.07],[18.23,0.22],[18.24,0.36],[18.26,0.14],[18.28,0.46],[18.29,0.09],[18.31,0.27],[18.33,0.18],[18.34,0.40],[18.36,0.12],[18.38,0.32],[18.39,0.22],[18.41,0.05],[18.42,0.49],[18.44,0.17],[18.46,0.37],[18.47,0.09],[18.49,0.26],[18.51,0.43],[18.52,0.14],[18.54,0.32],[18.56,0.07],[18.57,0.21],[18.59,0.47],[18.61,0.13],[18.62,0.37],[18.64,0.27],[18.66,0.08],[18.67,0.56],[18.69,0.19],[18.71,0.33],[18.73,0.11],[18.74,0.44],[18.76,0.24],[18.78,0.07],[18.79,0.37],[18.81,0.17],[18.83,0.52],[18.84,0.29],[18.86,0.12],[18.88,0.41],[18.89,0.22],[18.91,0.07],[18.93,0.33],[18.94,0.58],[18.96,0.15],[18.98,0.44],[18.99,0.27],[19.01,0.11],[19.03,0.37],[19.04,0.51],[19.06,0.19],[19.08,0.29],[19.09,0.07],[19.11,0.41],[19.13,0.24],[19.14,0.59],[19.16,0.14],[19.18,0.35],[19.19,0.27],[19.21,0.09],[19.23,0.44],[19.24,0.19],[19.26,0.57],[19.28,0.31],[19.29,0.13],[19.31,0.46],[19.33,0.27],[19.34,0.07],[19.36,0.37],[19.38,0.19],[19.39,0.54],[19.41,0.29],[19.43,0.13],[19.44,0.41],[19.46,0.22],[19.48,0.61],[19.49,0.34],[19.51,0.17],[19.53,0.47],[19.54,0.27],[19.56,0.09],[19.58,0.39],[19.59,0.21],[17.76,0.10],[17.95,0.09],[18.15,0.10],[18.35,0.06],[18.55,0.11],[18.75,0.05],[18.95,0.09],
[19.02,0.83],[19.05,0.62],[19.07,1.03],[19.10,0.47],[19.12,0.73],[19.15,0.92],[19.17,0.37],[19.20,0.68],[19.22,1.12],[19.25,0.53],[19.27,0.82],[19.30,0.29],[19.32,0.97],[19.35,0.62],[19.37,1.18],[19.40,0.43],[19.42,0.77],[19.45,0.96],[19.47,0.33],[19.50,0.67],[19.52,1.22],[19.55,0.57],[19.57,0.87],[19.60,0.36],[19.62,1.06],[19.65,0.72],[19.67,0.47],[19.70,0.93],[19.72,1.27],[19.75,0.63],[19.77,0.38],[19.80,0.83],[19.82,1.12],[19.85,0.52],[19.87,0.73],[19.90,1.36],[19.92,0.43],[19.95,0.97],[19.97,0.63],[20.00,1.18],[20.02,0.33],[20.05,0.78],[20.07,1.02],[20.10,0.47],[20.12,1.29],[20.15,0.69],[20.17,0.89],[20.20,0.41],[20.22,1.23],[20.25,0.73],[20.27,0.51],[20.30,1.03],[20.32,0.88],[20.35,1.38],[20.37,0.59],[20.40,0.97],[20.42,0.44],[20.45,1.17],[20.47,0.77],[20.50,1.31],[20.52,0.63],[20.55,1.08],[20.57,0.52],[20.60,0.87],[19.04,0.28],[19.09,0.19],[19.14,0.53],[19.19,0.23],[19.24,0.76],[19.29,0.56],[19.34,0.87],[19.39,0.72],[19.44,0.61],[19.49,0.47],[19.54,0.79],[19.59,0.58],[19.64,0.29],[19.69,0.67],[19.74,0.48],[19.79,0.58],[19.84,0.33],[19.89,0.67],[19.94,0.78],[19.99,0.48],[20.04,0.58],[20.09,0.88],[20.14,0.37],[20.19,1.06],[20.24,0.49],[20.29,0.71],[20.34,0.62],[20.39,0.32],[20.44,0.87],[20.49,0.57],[20.54,0.42],[20.59,1.12],[19.61,1.23],[19.81,0.93],[20.01,0.92],[20.21,0.83],
[20.31,1.48],[20.33,0.78],[20.35,1.88],[20.37,1.12],[20.39,0.53],[20.41,1.62],[20.43,1.32],[20.45,2.12],[20.47,0.92],[20.49,1.78],[20.51,1.08],[20.53,0.72],[20.55,1.92],[20.57,1.43],[20.59,2.32],[20.61,0.93],[20.63,1.62],[20.65,1.23],[20.67,0.79],[20.69,2.03],[20.71,1.53],[20.73,0.88],[20.75,2.22],[20.77,1.28],[20.79,1.72],[20.81,0.63],[20.83,2.42],[20.85,1.13],[20.87,1.83],[20.89,1.38],[20.91,0.82],[20.93,2.12],[20.95,1.52],[20.97,1.12],[20.99,2.62],[21.01,1.72],[21.03,0.92],[21.05,2.32],[21.07,1.42],[21.09,1.92],[21.11,1.18],[21.13,2.02],[21.15,1.58],[21.17,0.83],[21.19,2.48],[21.21,1.33],[21.23,1.88],[21.25,0.98],[21.27,2.18],[21.29,1.52],[21.31,2.68],[21.33,1.23],[21.35,1.82],[21.37,1.02],[21.39,2.32],[20.32,1.02],[20.36,0.62],[20.40,1.28],[20.44,0.68],[20.48,1.48],[20.52,2.02],[20.56,0.82],[20.60,1.73],[20.64,0.68],[20.68,1.42],[20.72,1.13],[20.76,0.73],[20.80,1.98],[20.84,1.62],[20.88,0.92],[20.92,1.68],[20.96,2.38],[21.00,0.78],[21.04,1.28],[21.08,1.02],[21.12,1.68],[21.16,2.22],[21.20,1.08],[21.24,1.62],[21.28,1.23],[21.32,0.88],[21.36,2.02],[21.40,1.42],[20.70,0.68],[20.86,0.53],[21.02,0.58],[21.14,0.71],[21.26,0.72],[20.94,0.62],[20.62,2.12],
[21.43,1.72],[21.49,2.82],[21.53,1.32],[21.59,3.52],[21.63,2.22],[21.69,1.62],[21.73,3.12],[21.79,2.42],[21.83,1.42],[21.89,2.72],[21.93,3.62],[21.99,1.72],[22.03,2.62],[22.09,3.42],[22.13,1.92],[22.19,3.12],[22.23,2.72],[22.29,3.72],[22.33,2.02],[22.39,2.92],[22.43,3.52],[22.49,2.42],[22.53,3.92],[22.59,2.82],[22.63,2.12],[22.69,3.32],[22.73,2.52],[22.79,3.82],[22.83,2.32],[22.89,3.02],[21.46,3.22],[21.56,2.52],[21.66,3.82],[21.76,1.92],[21.86,3.42],[21.96,2.32],[22.06,3.92],[22.16,2.52],[22.26,3.32],[22.36,2.62],
[17.81,0.29],[17.83,0.09],[17.85,0.46],[17.88,0.11],[17.90,0.38],[17.93,0.24],[17.95,0.44],[17.98,0.31],[18.00,0.07],[18.02,0.43],[18.05,0.15],[18.07,0.33],[18.10,0.27],[18.12,0.49],[18.15,0.19],[18.17,0.08],[18.20,0.37],[18.22,0.27],[18.25,0.11],[18.27,0.43],[18.30,0.19],[18.32,0.31],[18.35,0.47],[18.37,0.09],[18.40,0.28],[18.43,0.38],[18.45,0.12],[18.48,0.31],[18.50,0.19],[18.53,0.53],[18.55,0.37],[18.58,0.07],[18.60,0.29],[18.63,0.19],[18.65,0.42],[18.68,0.09],[18.70,0.47],[18.72,0.27],[18.75,0.36],[18.77,0.14],[18.80,0.46],[18.82,0.09],[18.85,0.31],[18.87,0.19],[18.90,0.51],[18.92,0.15],[18.95,0.41],[18.97,0.07],[19.00,0.33],[19.02,0.21],[19.05,0.47],[19.07,0.13],[19.10,0.36],[19.12,0.07],[19.15,0.43],[19.17,0.19],[19.20,0.31],[19.22,0.53],[19.25,0.12],[19.27,0.39],[19.30,0.22],[19.32,0.49],[19.35,0.17],[19.37,0.31],[19.40,0.09],[19.42,0.47],[19.45,0.21],[19.47,0.39],[19.50,0.13],[19.52,0.53],[19.55,0.31],[19.57,0.17],[19.60,0.46],[19.62,0.12],[19.65,0.37],[19.67,0.21],[19.70,0.52],[17.79,0.37],[17.99,0.46],[18.19,0.51],[18.39,0.47],[18.59,0.57],[18.79,0.61],[18.99,0.63],[19.19,0.67],[19.39,0.71],[19.59,0.73],[18.09,0.56],[18.49,0.63],[18.89,0.71],
[19.61,0.92],[19.63,0.52],[19.66,1.13],[19.68,0.37],[19.71,0.82],[19.73,0.57],[19.76,1.03],[19.78,0.67],[19.81,0.42],[19.83,1.17],[19.86,0.77],[19.88,0.53],[19.91,1.26],[19.93,0.88],[19.96,0.37],[19.98,1.12],[20.01,0.57],[20.03,0.82],[20.06,1.37],[20.08,0.62],[20.11,0.97],[20.13,1.22],[20.16,0.52],[20.18,0.82],[20.21,1.32],[20.23,0.97],[20.26,0.62],[20.28,1.17],[20.31,0.82],[20.33,1.52],[20.36,1.02],[20.38,0.42],[20.41,1.37],[20.43,0.77],[20.46,1.03],[20.48,1.62],[20.51,0.87],[20.53,1.33],[20.56,0.67],[20.58,1.52],[20.61,1.07],[20.63,0.47],[20.66,1.27],[20.68,0.97],[20.71,1.72],[20.73,0.63],[20.76,1.13],[20.78,1.47],[20.81,0.77],[20.83,1.22],[20.86,0.92],[20.88,1.67],[20.91,1.07],[20.93,0.72],[20.96,1.32],[20.98,1.02],[21.01,0.67],[21.03,1.52],[21.06,0.82],[21.08,1.22],[21.11,0.92],[21.13,1.37],[21.16,0.63],[21.18,1.12],[21.21,0.87],[19.65,0.27],[19.75,0.33],[19.85,0.22],[19.95,0.48],[20.05,0.42],[20.15,0.28],[20.25,0.33],[20.35,0.52],[20.45,0.37],[20.55,0.47],[20.65,0.57],[20.75,0.43],[20.85,0.62],[20.95,0.53],[21.05,0.48],
[20.02,0.93],[20.05,1.33],[20.08,0.68],[20.11,1.18],[20.14,0.82],[20.17,1.53],[20.20,0.62],[20.23,1.42],[20.26,1.08],[20.29,0.58],[20.32,1.28],[20.35,0.78],[20.38,1.67],[20.41,1.13],[20.44,0.57],[20.47,1.38],[20.50,1.02],[20.53,1.82],[20.56,1.23],[20.59,0.72],[20.62,1.43],[20.65,1.88],[20.68,0.82],[20.71,1.28],[20.74,1.98],[20.77,0.98],[20.80,1.42],[20.83,0.92],[20.86,2.07],[20.89,1.58],[20.92,1.18],[20.95,0.77],[20.98,1.88],[21.01,1.28],[21.04,2.12],[21.07,1.67],[21.10,1.08],[21.13,1.78],[21.16,1.33],[21.19,2.02],[21.22,1.17],[21.25,1.93],[21.28,1.48],[21.31,2.22],[21.34,1.62],[21.37,1.32],[21.40,1.92],[20.10,0.38],[20.30,0.43],[20.50,0.52],[20.70,0.57],[20.90,0.48],[21.10,0.62],[21.30,0.72],[20.22,0.52],[20.42,0.33],[20.62,0.38],[20.82,0.52],[21.02,0.78],[21.22,0.63],
[21.21,3.02],[21.26,2.62],[21.31,3.42],[21.36,2.82],[21.41,2.12],[21.46,2.52],[21.51,3.32],[21.56,1.92],[21.61,3.02],[21.66,2.32],[21.71,3.52],[21.76,2.62],[21.81,3.92],[21.86,2.12],[21.91,3.22],[21.96,2.82],[22.01,3.72],[22.06,2.02],[22.11,2.92],[22.16,3.52],[22.21,2.62],[22.26,1.92],[22.31,3.32],[22.36,3.02],[22.41,2.22],[22.46,3.82],[22.51,2.72],[22.56,3.32],[22.61,3.62],[22.66,2.42],[22.71,2.92],[22.76,3.52],[22.81,2.62],[22.86,3.92],[22.91,3.22],[22.95,2.42],[21.28,1.52],[21.58,1.62],[21.88,1.72],[22.18,2.02]
];

const ngc2298Gray=[
[14.58,2.40],[14.80,0.45],[15.18,1.55],[15.53,2.15],[16.06,2.60],[16.10,2.45],[15.96,1.40],[16.15,1.40],[16.08,0.90],[15.87,0.60],[15.69,0.50],[15.76,0.10],[16.25,0.10],
[16.38,1.80],[16.71,1.80],[16.79,1.50],[16.50,0.96],[17.60,2.85],[17.54,1.35],[17.74,1.35],[17.67,1.15],[17.66,1.01],[17.96,1.80],[18.04,1.70],[18.17,1.75],[18.03,1.25],[18.39,3.10],[18.34,2.69],[18.29,2.30],[18.40,2.30],[18.65,2.60],[18.65,2.25],[18.40,1.45],[18.64,1.50],[18.62,1.22],[18.64,1.17],[18.38,1.21],[18.12,0.85],[18.08,0.60],[17.88,0.51],[17.63,0.44],
[19.21,3.84],[19.44,3.64],[19.45,3.54],[19.31,3.50],[19.56,3.38],[19.47,3.44],[19.54,3.30],[19.86,3.70],[19.86,3.59],[20.09,3.69],[20.22,3.89],[20.27,3.84],[20.42,3.80],[20.45,3.64],[20.13,3.54],[20.20,3.49],[20.18,3.38],[20.24,3.41],[20.28,3.29],[20.33,3.29],[19.99,3.35],[18.71,3.20],[19.07,3.10],[18.97,2.90],[19.70,3.15],[19.74,2.99],[19.54,2.90],[18.84,2.60],[19.04,2.40],[19.13,2.30],[19.32,2.35],[19.30,2.15],[19.37,2.08],[19.44,2.05],[18.97,1.91],[19.22,1.91],[19.48,2.44],[19.51,2.30],[19.63,2.44],[19.66,2.60],[19.68,2.70],[19.65,2.25],[19.81,2.50],[19.86,2.55],[19.95,2.63],[20.03,2.47],[20.15,2.79],[20.32,2.64],[20.35,2.95],[20.54,2.79],[20.65,2.68],[18.75,1.70],[18.64,1.48],[18.66,1.19],[18.62,1.16],[18.92,1.51],[19.07,1.56],[19.17,1.56],[19.04,1.31],[19.13,1.31],[19.29,1.31],[19.19,2.00],[19.23,1.90],[19.42,1.58],[19.50,1.63],[19.74,2.05],[19.78,2.10],[19.72,2.18],
[17.80,0.35],[17.92,0.22],[18.05,0.40],[18.15,0.28],[17.98,0.50],[18.10,0.15],
[18.25,0.35],[18.30,0.60],[18.38,0.25],[18.44,0.70],[18.48,0.45],[18.55,0.90],[18.58,0.35],[18.63,0.65],[18.68,0.50],[18.34,0.15],[18.52,0.18],[18.42,1.00],
[18.72,0.55],[18.75,0.85],[18.78,0.30],[18.82,0.70],[18.86,0.45],[18.90,0.95],[18.93,0.60],[18.96,0.25],[18.99,0.80],[19.02,0.50],[19.05,0.35],[19.08,1.00],[19.11,0.70],[19.14,0.45],[19.17,0.92],[19.20,0.62],[18.80,1.10],[19.00,1.20],[18.88,0.18],[19.12,0.20],
[19.22,0.45],[19.25,0.78],[19.28,1.10],[19.31,0.35],[19.34,0.92],[19.37,0.60],[19.40,1.25],[19.43,0.40],[19.46,0.85],[19.49,1.05],[19.52,0.55],[19.55,1.30],[19.58,0.72],[19.61,0.40],[19.64,1.00],[19.67,0.62],[19.70,1.20],[19.26,0.25],[19.47,0.30],[19.62,0.28],[19.36,1.45],[19.57,1.60],[19.32,0.15],
[19.72,0.92],[19.74,1.45],[19.76,0.50],[19.78,1.20],[19.80,0.78],[19.83,1.65],[19.85,0.40],[19.87,1.00],[19.90,1.35],[19.92,0.62],[19.94,1.85],[19.96,1.10],[19.99,0.45],[20.01,1.50],[20.03,0.85],[20.05,1.25],[20.08,2.05],[20.10,0.72],[20.12,1.60],[20.14,1.00],[20.16,0.40],[20.18,1.38],[20.20,0.88],[19.88,2.20],[20.06,0.30],[19.79,0.25],[19.97,0.28],
[20.22,1.60],[20.24,0.90],[20.26,2.25],[20.28,1.30],[20.30,0.60],[20.32,1.95],[20.34,1.15],[20.36,2.55],[20.38,0.82],[20.40,1.55],[20.42,2.10],[20.44,1.05],[20.46,0.50],[20.48,1.80],[20.50,2.40],[20.52,1.20],[20.54,0.75],[20.56,2.15],[20.58,1.62],[20.60,1.00],[20.62,2.60],[20.64,1.40],[20.66,0.62],[20.68,1.90],[20.70,2.30],[20.45,2.85],[20.25,0.40],[20.58,0.35],
[20.72,1.40],[20.74,2.75],[20.76,0.95],[20.78,1.80],[20.80,3.25],[20.82,2.20],[20.84,1.20],[20.86,2.60],[20.88,1.60],[20.90,3.60],[20.92,0.80],[20.94,2.10],[20.96,3.00],[20.98,1.45],[21.00,2.45],[21.02,3.40],[21.04,0.26],[21.04,1.85],[21.06,2.85],[21.08,1.15],[21.10,3.75],[21.12,2.25],[21.14,1.55],[21.16,3.15],[21.18,2.65],[21.20,1.90],[20.85,3.90],[21.02,1.00],[20.75,0.60],
[21.38,0.46],[21.22,2.90],[21.24,1.80],[21.26,3.60],[21.28,2.25],[21.30,1.35],[21.32,3.15],[21.34,2.70],[21.36,1.60],[21.38,3.85],[21.40,2.40],[21.42,1.95],[21.44,3.40],[21.46,2.85],[21.48,1.25],[21.50,3.00],[21.52,2.15],[21.54,3.65],[21.56,2.50],[21.58,1.70],[21.60,3.25],[21.62,2.05],[21.64,3.80],[21.66,2.75],[21.68,1.50],[21.70,2.35],[21.27,1.00],[21.47,3.95],[21.57,2.95],[21.33,2.05],
[22.20,0.96],[21.72,3.10],[21.74,2.05],[21.76,3.75],[21.78,2.55],[21.80,1.45],[21.82,3.35],[21.84,2.30],[21.86,3.95],[21.88,2.80],[21.90,1.80],[21.92,3.50],[21.94,2.20],[21.96,3.05],[21.98,2.60],[22.00,3.80],[22.02,1.60],[22.04,2.90],[22.06,3.45],[22.08,2.30],[22.10,1.95],[22.12,3.20],[22.14,2.65],[22.16,3.90],[22.18,2.10],[21.73,1.25],[21.87,1.50],[22.07,1.40],[21.97,3.30],
[22.74,1.35],[22.89,1.61],[22.81,1.70],[22.65,1.70],[22.70,1.87],[22.82,1.95],[22.89,2.10],[22.98,2.50],[22.96,2.63],
[22.22,3.60],[22.25,2.20],[22.28,3.05],[22.31,3.85],[22.34,2.50],[22.37,3.40],[22.40,1.90],[22.43,2.85],[22.46,3.65],[22.49,2.30],[22.52,3.20],[22.55,2.70],[22.58,3.95],[22.61,2.15],[22.64,3.00],[22.67,2.55],[22.70,3.55],[22.73,2.35],[22.76,3.85],[22.79,2.90],[22.82,3.35],[22.85,2.45],[22.88,3.70],[22.91,3.10],[22.94,2.80],[22.97,3.50],[22.30,1.55],[22.50,1.75],
[19.03,0.73],[19.08,0.43],[19.13,0.88],[19.18,0.58],[19.23,1.13],[19.28,0.52],[19.33,0.72],[19.38,1.02],[19.43,0.63],[19.48,1.33],[19.53,0.82],[19.58,0.52],[19.63,1.13],[19.68,0.78],[19.73,1.52],[19.78,0.98],[19.83,0.63],[19.88,1.23],[19.93,0.82],[19.98,1.62],[20.03,1.08],[20.08,0.58],[20.13,1.42],[20.18,0.92],[20.23,1.28],[20.28,0.72],[20.33,1.62],[20.38,1.08],[20.43,1.78],[20.48,0.82],[20.53,1.48],[20.58,1.18],[19.06,1.08],[19.16,0.33],[19.26,0.88],[19.36,0.48],[19.46,0.68],[19.56,0.98],[19.66,0.43],[19.76,0.72],[19.86,0.48],[19.96,0.92],[20.06,1.28],[20.16,0.62],[20.26,1.02],[20.36,0.78],[20.46,1.22],[20.56,0.92],[19.41,0.83],[19.71,1.18],[20.01,0.73],[20.31,1.38],[20.51,0.62],[19.91,1.08],[19.61,0.68],[19.31,0.98],[20.21,1.63],[20.41,1.48],[20.11,1.13],[19.81,1.38],
[20.31,1.82],[20.34,1.42],[20.37,2.12],[20.40,0.98],[20.43,1.68],[20.46,2.38],[20.49,1.28],[20.52,1.78],[20.55,0.88],[20.58,2.08],[20.61,1.52],[20.64,2.52],[20.67,1.12],[20.70,1.72],[20.73,2.28],[20.76,1.38],[20.79,2.62],[20.82,1.02],[20.85,1.92],[20.88,2.42],[20.91,1.32],[20.94,2.78],[20.97,1.72],[21.00,1.18],[21.03,2.22],[21.06,1.52],[21.09,2.62],[21.12,1.82],[21.15,1.08],[21.18,2.12],[21.21,2.52],[21.24,1.42],[21.27,2.82],[21.30,1.92],[21.33,1.18],[21.36,2.32],[21.39,1.72],[21.42,2.98],[21.45,2.12],[21.48,1.42],[20.33,0.72],[20.39,1.52],[20.45,1.08],[20.51,2.22],[20.57,1.32],[20.63,0.92],[20.69,2.02],[20.75,1.62],[20.81,2.18],[20.87,1.48],[20.93,1.98],[20.99,2.42],[21.05,1.02],[21.11,2.32],[21.17,1.58],[21.23,1.98],[21.29,2.38],[21.35,1.58],[21.41,2.42],[21.47,2.68],[20.60,2.82],[20.90,3.08],[21.20,3.18],[20.72,0.82],[20.84,0.73],[20.96,0.93],[21.08,0.88],[21.26,1.12],[21.44,1.28],[20.48,2.62],
[21.51,1.82],[21.53,2.62],[21.55,3.42],[21.57,1.52],[21.59,2.22],[21.61,3.02],[21.63,1.72],[21.65,3.62],[21.67,2.42],[21.69,1.92],[21.71,2.82],[21.73,3.32],[21.75,1.62],[21.77,2.32],[21.79,3.82],[21.81,2.02],[21.83,2.72],[21.85,3.12],[21.87,1.82],[21.89,3.62],[21.91,2.52],[21.93,1.62],[21.95,2.92],[21.97,3.52],[21.99,2.12],[22.01,3.02],[22.03,2.42],[22.05,3.82],[22.07,1.82],[22.09,2.62],[22.11,3.32],[22.13,2.22],[22.15,2.92],[22.17,3.62],[22.19,1.72],[22.21,2.72],[22.23,3.22],[22.25,2.52],[22.27,3.92],[22.29,2.12],[22.31,3.12],[22.33,2.82],[22.35,3.62],[22.37,2.32],[22.39,3.32],[22.41,2.62],[22.43,3.82],[22.45,2.12],[22.47,3.02],[22.49,2.72],[22.51,3.52],[22.53,1.92],[22.55,3.22],[22.57,2.42],[22.59,3.72],[22.61,2.92],[22.63,3.42],[22.65,2.22],[22.67,3.92],[22.69,2.62],[22.71,3.12],[22.73,2.02],[22.75,3.52],[22.77,2.52],[22.79,3.22],[22.81,2.72],[22.83,3.82],[22.85,2.22],[22.87,3.42],[22.89,2.92],[21.56,2.82],[21.66,1.42],[21.76,2.92],[21.86,2.32],[21.96,1.92],[22.06,2.32],[22.16,1.52],[22.26,1.82],[22.36,1.72],[22.46,1.62],
[19.52,0.67],[19.59,0.88],[19.66,1.06],[19.72,0.55],[19.77,1.28],[19.84,0.86],[19.89,0.58],[19.95,1.17],[20.02,1.32],[20.07,0.82],[20.14,1.53],[20.19,1.12],[20.24,0.68],[20.29,1.48],[20.35,0.93],[20.41,1.22],[20.47,1.62],[20.53,1.03],[20.59,1.82],[20.65,1.22],[20.71,0.92],[20.77,1.58],[20.83,1.88],[20.89,1.12],[20.95,2.02],[21.01,1.42],[21.07,1.92],[21.13,1.32],[21.19,2.32],[21.25,1.68],[21.31,2.12],[21.37,2.52],[21.43,1.62],[21.49,2.22],[20.21,1.93],[20.38,2.23],[20.55,2.42],[20.72,2.08],[20.89,2.72],[21.06,2.48],[21.23,2.72],[21.40,2.92],[19.98,0.62],[20.17,0.78],[20.36,0.58],[20.62,0.82],[20.80,1.32],[20.97,0.72],[21.14,1.62],[21.33,1.48],
[21.52,2.32],[21.58,3.22],[21.62,2.02],[21.68,3.02],[21.72,2.22],[21.78,2.82],[21.82,3.62],[21.88,2.22],[21.92,3.12],[21.98,2.62],[22.02,3.42],[22.08,3.12],[22.12,2.52],[22.18,3.32],[22.22,2.02],[22.28,2.62],[22.32,3.52],[22.38,2.82],[22.42,3.22],[22.48,3.92],[22.52,2.52],[22.58,3.32],[22.62,3.72],[22.68,2.82],[22.72,3.62],[22.78,2.72],[22.82,3.02],[22.88,2.52],[22.92,3.52],[22.96,3.82],[21.54,3.82],[21.64,2.72],[21.74,3.52],[21.84,1.92],[21.94,3.82],[22.04,2.12],[22.14,3.72],[22.24,2.92],[22.34,2.32],[22.44,3.42],
[20.62,1.78],[20.66,2.28],[20.70,1.48],[20.74,2.08],[20.78,2.48],[20.82,1.58],[20.86,2.22],[20.90,1.72],[20.94,2.58],[20.98,1.98],[21.02,2.72],[21.06,2.02],[21.10,2.48],[21.14,2.08],[21.18,2.92],[21.22,1.62],[21.26,2.28],[21.30,3.08],[21.34,1.88],[21.38,2.58],[21.42,3.28],[21.46,1.78],[21.50,2.68],[21.54,3.12],[21.58,2.42],[21.62,3.48],[21.66,2.08],[21.70,2.98],[21.74,2.68],[21.78,3.38],[21.82,2.48],[21.86,3.72],[21.90,2.18],[21.94,2.72],[21.98,3.22],[22.02,2.52],[22.06,3.62],[22.10,2.42],[22.14,3.02],[22.18,2.72],[22.22,3.32],[22.26,2.32],[22.30,3.72],[22.34,2.92],[22.38,3.52],[22.42,2.52],[22.46,3.22],[22.50,2.92],[22.54,3.62],[22.58,2.62],[20.68,1.18],[20.88,1.38],[21.08,1.32],[21.28,1.78],[21.48,2.22],[21.68,1.68],[21.88,1.98],[22.08,1.72],[22.28,2.02],[22.48,2.12],
[19.82,0.68],[19.87,1.18],[19.92,0.88],[19.97,1.42],[20.02,0.72],[20.07,1.12],[20.12,0.52],[20.17,1.28],[20.22,0.78],[20.27,1.42],[20.32,0.52],[20.37,1.28],[20.42,0.68],[20.47,1.08],[20.52,1.42],[20.57,0.78],[20.62,1.22],[20.67,1.58],[20.72,0.68],[20.77,1.18],[20.82,1.48],[20.87,0.82],[20.92,1.28],[20.97,1.58],[19.90,0.42],[20.10,1.55],[20.30,1.08],[20.50,0.48],[20.70,1.38],[20.90,1.02]
];

const svg=d3.select("#c");
const x=d3.scaleLinear().domain(xDomain).range([79.5,811.5]);
const panels=[
 {name:panelNames[0],black:ngc3201Black,gray:ngc3201Gray,top:15,bottom:269.5},
 {name:panelNames[1],black:ngc2298Black,gray:ngc2298Gray,top:307.3,bottom:562.7}
];
const defs=svg.append("defs");
panels.forEach((p,i)=>{
 const y=d3.scaleLinear().domain(yDomain).range([p.bottom,p.top]);
 defs.append("clipPath").attr("id","clip"+i).append("rect")
   .attr("x",x(xDomain[0])).attr("y",y(yDomain[1])).attr("width",x(xDomain[1])-x(xDomain[0])).attr("height",y(yDomain[0])-y(yDomain[1]));
 const g=svg.append("g");
 g.append("rect").attr("x",x(xDomain[0])).attr("width",x(xDomain[1])-x(xDomain[0]))
   .attr("y",y(band[1])).attr("height",y(band[0])-y(band[1])).attr("fill","#e8e8e8");
 const pts=g.append("g").attr("clip-path","url(#clip"+i+")");
 pts.selectAll("circle.b").data(p.black).join("circle").attr("class","b")
   .attr("cx",d=>x(d[0])).attr("cy",d=>y(d[1])).attr("r",2.7).attr("fill","#000");
 pts.selectAll("circle.g").data(p.gray).join("circle").attr("class","g")
   .attr("cx",d=>x(d[0])).attr("cy",d=>y(d[1])).attr("r",2.7).attr("fill","#a6a6a6");
 const ax=g.append("g").attr("transform","translate(0,"+y(0)+")")
   .call(d3.axisBottom(x).tickValues(xTicks).tickFormat(d3.format("d")).tickSize(7).tickPadding(7));
 const ay=g.append("g").attr("transform","translate("+x(xDomain[0])+",0)")
   .call(d3.axisLeft(y).tickValues(yTicks).tickFormat(d3.format("d")).tickSize(7).tickPadding(6));
 [ax,ay].forEach(a=>{
   a.attr("font-family",null);
   a.select(".domain").remove();
   a.selectAll(".tick line").attr("stroke","#000").attr("stroke-width",1.3);
   a.selectAll(".tick text").attr("fill","#000").style("font-size","21px").style("font-family",'"Liberation Serif",serif');
 });
 g.append("rect").attr("x",x(xDomain[0])).attr("y",y(yDomain[1]))
   .attr("width",x(xDomain[1])-x(xDomain[0])).attr("height",y(yDomain[0])-y(yDomain[1]))
   .attr("fill","none").attr("stroke","#111").attr("stroke-width",1.6);
 g.append("text").attr("x",119).attr("y",p.top+32).text(p.name)
   .style("font-size","29px").attr("fill","#000");
});
svg.append("text").attr("x",445.5).attr("y",624).attr("text-anchor","middle")
  .style("font-size","29px").attr("fill","#000").text(axisTitleX);
svg.append("text").attr("transform","translate(25,285) rotate(-90)").attr("text-anchor","middle")
  .style("font-size","29px").attr("fill","#000").text(axisTitleY);
</script></body></html>
